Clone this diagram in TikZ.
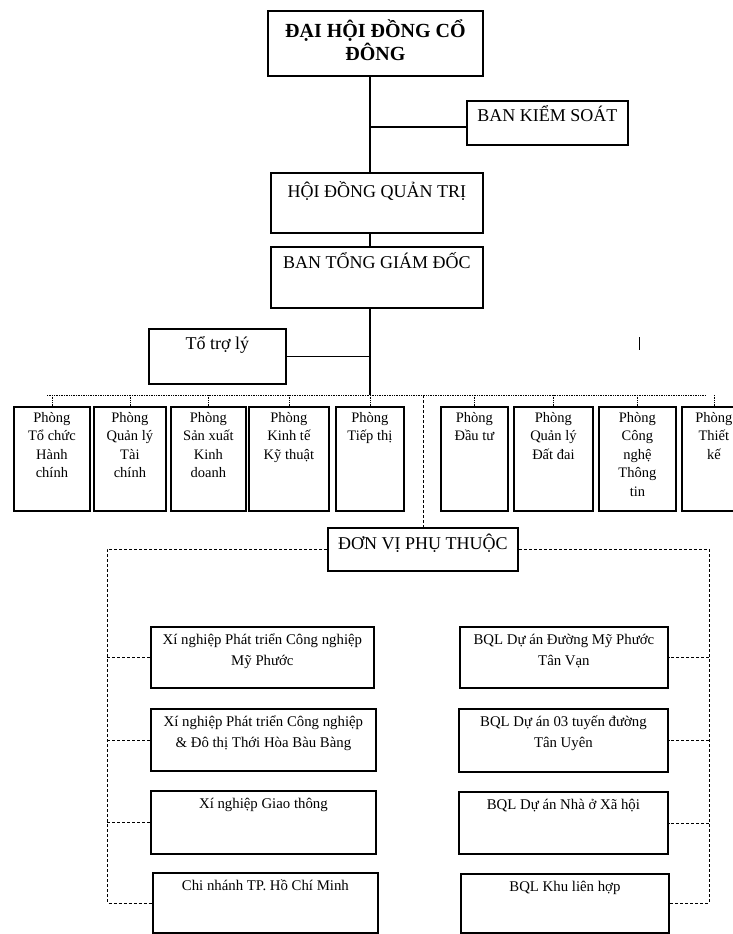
\documentclass[tikz,border=0pt]{standalone}
\usepackage{fontspec}
\setmainfont{Liberation Serif}
\usetikzlibrary{positioning}

\tikzset{
  orgbox/.style={draw, line width=1.8pt, anchor=north west, inner sep=0pt},
  intext/.style={anchor=north, yshift=-6pt, align=center, inner sep=0pt},
  bigfont/.style={font=\fontsize{20}{23}\selectfont\bfseries},
  headfont/.style={font=\fontsize{18}{21}\selectfont},
  deptfont/.style={font=\fontsize{14.5}{18.5}\selectfont},
  unitfont/.style={font=\fontsize{14.8}{21}\selectfont},
  link/.style={line width=1.2pt},
  thinbus/.style={line width=0.7pt, densely dotted},
  dashbus/.style={line width=0.8pt, dash pattern=on 3pt off 2pt}
}

\begin{document}
\begin{tikzpicture}[x=1pt, y=-1pt]
  \useasboundingbox (0,0) rectangle (733,934);
  \clip (0,0) rectangle (733,934);

  % Top of the chart
  \node[orgbox, minimum width=215pt, minimum height=65pt,
        label={[intext, bigfont, yshift=-3pt]north:{ĐẠI HỘI ĐỒNG CỔ\\ĐÔNG}}] (dhdcd) at (267,10) {};
  \node[orgbox, minimum width=161pt, minimum height=44pt,
        label={[intext, headfont, yshift=1pt]north:{BAN KIỂM SOÁT}}] (bks) at (466,100) {};
  \node[orgbox, minimum width=212pt, minimum height=60pt,
        label={[intext, headfont, yshift=-3pt]north:{HỘI ĐỒNG QUẢN TRỊ}}] (hdqt) at (270,172) {};
  \node[orgbox, minimum width=212pt, minimum height=61pt,
        label={[intext, headfont]north:{BAN TỔNG GIÁM ĐỐC}}] (btgd) at (270,246) {};
  \node[orgbox, minimum width=137pt, minimum height=55pt,
        label={[intext, headfont, yshift=-2pt]north:{Tổ trợ lý}}] (ttl) at (148,328) {};

  % Departments
  \node[orgbox, minimum width=76pt, minimum height=104pt,
        label={[intext, deptfont]north:{Phòng\\Tổ chức\\Hành\\chính}}] (d1) at (13,406) {};
  \node[orgbox, minimum width=72pt, minimum height=104pt,
        label={[intext, deptfont]north:{Phòng\\Quản lý\\Tài\\chính}}] (d2) at (93,406) {};
  \node[orgbox, minimum width=75pt, minimum height=104pt,
        label={[intext, deptfont]north:{Phòng\\Sản xuất\\Kinh\\doanh}}] (d3) at (170,406) {};
  \node[orgbox, minimum width=80pt, minimum height=104pt,
        label={[intext, deptfont]north:{Phòng\\Kinh tế\\Kỹ thuật}}] (d4) at (248,406) {};
  \node[orgbox, minimum width=68pt, minimum height=104pt,
        label={[intext, deptfont]north:{Phòng\\Tiếp thị}}] (d5) at (335,406) {};
  \node[orgbox, minimum width=67pt, minimum height=104pt,
        label={[intext, deptfont]north:{Phòng\\Đầu tư}}] (d6) at (440,406) {};
  \node[orgbox, minimum width=79pt, minimum height=104pt,
        label={[intext, deptfont]north:{Phòng\\Quản lý\\Đất đai}}] (d7) at (513,406) {};
  \node[orgbox, minimum width=77pt, minimum height=104pt,
        label={[intext, deptfont]north:{Phòng\\Công\\nghệ\\Thông\\tin}}] (d8) at (598,406) {};
  \node[orgbox, minimum width=64pt, minimum height=104pt,
        label={[intext, deptfont]north:{Phòng\\Thiết\\kế}}] (d9) at (681,406) {};

  % Dependent units
  \node[orgbox, minimum width=190pt, minimum height=43pt,
        label={[intext, headfont, yshift=-1pt]north:{ĐƠN VỊ PHỤ THUỘC}}] (dv) at (327,527) {};
  \node[orgbox, minimum width=223pt, minimum height=61pt,
        label={[intext, unitfont, yshift=-2pt]north:{Xí nghiệp Phát triển Công nghiệp\\Mỹ Phước}}] (lb1) at (150,626) {};
  \node[orgbox, minimum width=225pt, minimum height=62pt,
        label={[intext, unitfont, yshift=-2pt]north:{Xí nghiệp Phát triển Công nghiệp\\\& Đô thị Thới Hòa Bàu Bàng}}] (lb2) at (150,708) {};
  \node[orgbox, minimum width=225pt, minimum height=63pt,
        label={[intext, unitfont, yshift=-2pt]north:{Xí nghiệp Giao thông}}] (lb3) at (150,790) {};
  \node[orgbox, minimum width=225pt, minimum height=60pt,
        label={[intext, unitfont, yshift=-2pt]north:{Chi nhánh TP. Hồ Chí Minh}}] (lb4) at (152,872) {};
  \node[orgbox, minimum width=208pt, minimum height=61pt,
        label={[intext, unitfont, yshift=-2pt]north:{BQL Dự án Đường Mỹ Phước\\Tân Vạn}}] (rb1) at (459,626) {};
  \node[orgbox, minimum width=209pt, minimum height=63pt,
        label={[intext, unitfont, yshift=-2pt]north:{BQL Dự án 03 tuyến đường\\Tân Uyên}}] (rb2) at (458,708) {};
  \node[orgbox, minimum width=209pt, minimum height=62pt,
        label={[intext, unitfont, yshift=-2pt]north:{BQL Dự án Nhà ở Xã hội}}] (rb3) at (458,791) {};
  \node[orgbox, minimum width=208pt, minimum height=59pt,
        label={[intext, unitfont, yshift=-2pt]north:{BQL Khu liên hợp}}] (rb4) at (460,873) {};

  % Main line
  \coordinate (sp) at (370,0);
  \coordinate (kb) at (370,127);
  \coordinate (bus) at (370,395);
  \coordinate (busl) at (47,395);
  \coordinate (busr) at (705,395);
  \draw[link] (dhdcd.south -| sp) -- (hdqt.north -| sp);
  \draw[link] (kb) -- (kb -| bks.west);
  \draw[link] (hdqt.south -| sp) -- (btgd.north -| sp);
  \draw[link] (btgd.south -| sp) -- (bus);
  \draw[link] (ttl.east) -- (ttl.east -| sp);

  % Department bus
  \draw[thinbus] (busl) -- (busr);
  \foreach \d in {d1,d2,d3,d4,d5,d6,d7,d8,d9}
    \draw[thinbus] (\d.north |- bus) -- (\d.north);
  \draw[dashbus] (dv.north |- bus) -- (dv.north);

  % Brackets for the units
  \coordinate (lx) at (107,0);
  \coordinate (rx) at (709,0);
  \draw[dashbus] (dv.west) -| (lx |- lb4.west) -- (lb4.west);
  \foreach \b in {lb1,lb2,lb3}
    \draw[dashbus] (\b.west -| lx) -- (\b.west);
  \draw[dashbus] (dv.east) -| (rx |- rb4.east) -- (rb4.east);
  \foreach \b in {rb1,rb2,rb3}
    \draw[dashbus] (\b.east -| rx) -- (\b.east);

  % stray mark
  \draw[line width=1pt] (639,337) -- (639,350);
\end{tikzpicture}
\end{document}
